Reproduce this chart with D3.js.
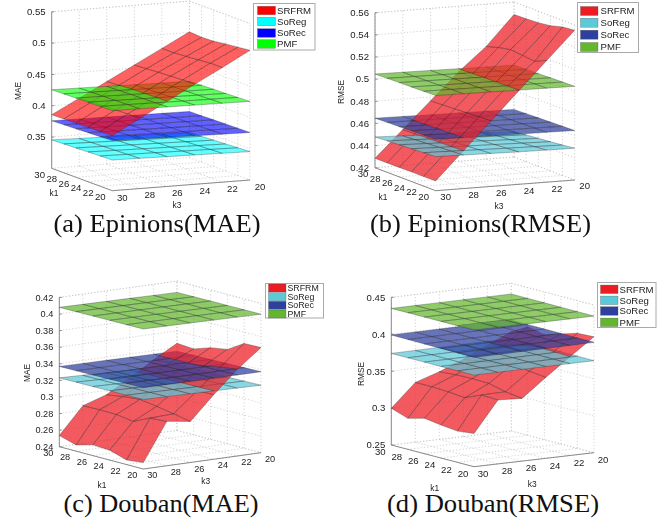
<!DOCTYPE html>
<html><head><meta charset="utf-8">
<script src="https://cdn.jsdelivr.net/npm/d3@7/dist/d3.min.js"></script>
<style>html,body{margin:0;padding:0;background:#fff}svg{display:block}text{font-family:"Liberation Sans",Arial,sans-serif}</style>
</head><body><script>
const kTicks = [30, 28, 26, 24, 22, 20];
const seriesNames = ["SRFRM", "SoReg", "SoRec", "PMF"];

// rows: k1 = 30..20, columns: k3 = 30..20
const epMaeSRFRM = [[.3855,.4086,.4317,.4548,.4779,.5009],[.3860,.4095,.4330,.4560,.4780,.4993],[.3865,.4105,.4345,.4575,.4795,.5003],[.3870,.4115,.4350,.4585,.4810,.5030],[.3875,.4120,.4355,.4595,.4830,.5050],[.3880,.4120,.4360,.4600,.4830,.5073]];
const epMaeSoReg = [[.3454,.3443,.3432,.3422,.3411,.3400],[.3461,.3451,.3441,.3431,.3421,.3411],[.3468,.3459,.3449,.3440,.3431,.3422],[.3476,.3467,.3458,.3450,.3441,.3432],[.3483,.3475,.3467,.3459,.3451,.3443],[.3490,.3483,.3475,.3469,.3461,.3454]];
const epMaeSoRec = [[.3759,.3755,.3750,.3746,.3741,.3737],[.3767,.3762,.3757,.3752,.3746,.3741],[.3775,.3769,.3763,.3757,.3752,.3746],[.3784,.3777,.3770,.3763,.3757,.3750],[.3792,.3784,.3776,.3770,.3762,.3755],[.3800,.3792,.3783,.3776,.3767,.3759]];
const epMaePMF = [[.4255,.4248,.4240,.4233,.4225,.4218],[.4260,.4254,.4247,.4240,.4233,.4226],[.4265,.4259,.4253,.4247,.4240,.4234],[.4270,.4265,.4259,.4253,.4246,.4240],[.4275,.4270,.4264,.4258,.4253,.4248],[.4280,.4275,.4270,.4265,.4260,.4255]];

const epRmseSRFRM = [[.4285,.4525,.4766,.5006,.5218,.5487],[.4285,.4530,.4770,.5010,.5250,.5490],[.4286,.4532,.4776,.5020,.5273,.5496],[.4287,.4535,.4782,.5030,.5262,.5511],[.4287,.4538,.4788,.5040,.5250,.5541],[.4288,.4541,.4794,.5047,.5300,.5553]];
const epRmseSoReg = [[.4478,.4468,.4459,.4449,.4440,.4430],[.4484,.4475,.4467,.4458,.4450,.4441],[.4490,.4482,.4475,.4467,.4459,.4452],[.4496,.4489,.4482,.4476,.4469,.4463],[.4502,.4496,.4490,.4484,.4479,.4474],[.4508,.4503,.4498,.4493,.4490,.4487]];
const epRmseSoRec = [[.4647,.4644,.4640,.4637,.4633,.4630],[.4651,.4647,.4644,.4640,.4637,.4633],[.4654,.4650,.4647,.4644,.4640,.4637],[.4658,.4654,.4651,.4647,.4644,.4640],[.4661,.4657,.4654,.4651,.4647,.4644],[.4665,.4661,.4658,.4654,.4651,.4647]];
const epRmsePMF = [[.5046,.5043,.5040,.5036,.5033,.5030],[.5049,.5046,.5043,.5040,.5036,.5033],[.5052,.5049,.5046,.5043,.5039,.5036],[.5054,.5051,.5048,.5045,.5043,.5040],[.5057,.5054,.5051,.5048,.5046,.5043],[.5060,.5057,.5054,.5051,.5049,.5046]];

const doMaeSRFRM = [[.2534,.2855,.2948,.311,.329,.345],[.2475,.286,.298,.315,.331,.3436],[.253,.2857,.30,.317,.335,.3505],[.252,.2827,.297,.318,.338,.3538],[.2455,.292,.2934,.317,.342,.3664],[.2477,.2935,.2895,.318,.3445,.3667]];
const doMaeSoReg = [[.3230,.3222,.3214,.3206,.3198,.3190],[.3232,.3224,.3217,.3210,.3203,.3195],[.3233,.3226,.3220,.3213,.3207,.3200],[.3235,.3229,.3223,.3217,.3211,.3204],[.3236,.3231,.3226,.3220,.3215,.3209],[.3238,.3233,.3228,.3224,.3219,.3214]];
const doMaeSoRec = [[.3368,.3365,.3363,.3360,.3358,.3355],[.3370,.3368,.3366,.3363,.3361,.3359],[.3373,.3371,.3369,.3366,.3365,.3363],[.3375,.3373,.3371,.3369,.3368,.3367],[.3378,.3376,.3374,.3373,.3372,.3372],[.3380,.3379,.3378,.3378,.3377,.3376]];
const doMaePMF = [[.4080,.4077,.4074,.4071,.4067,.4064],[.4082,.4079,.4076,.4073,.4070,.4065],[.4083,.4081,.4078,.4075,.4072,.4067],[.4085,.4082,.4079,.4076,.4072,.4068],[.4086,.4084,.4081,.4077,.4073,.4069],[.4088,.4085,.4082,.4078,.4074,.4070]];

const doRmseSRFRM = [[.2997,.331,.3416,.3547,.370,.3845],[.292,.331,.3435,.358,.376,.397],[.2979,.330,.344,.362,.382,.392],[.2947,.328,.3435,.366,.385,.399],[.2924,.3375,.338,.362,.385,.4058],[.295,.3366,.3349,.3597,.3838,.407]];
const doRmseSoReg = [[.3740,.3743,.3746,.3749,.3752,.3755],[.3740,.3743,.3745,.3748,.3750,.3753],[.3740,.3742,.3744,.3746,.3749,.3751],[.3740,.3742,.3744,.3745,.3747,.3750],[.3740,.3741,.3743,.3744,.3746,.3748],[.3740,.3741,.3742,.3743,.3745,.3746]];
const doRmseSoRec = [[.3990,.3992,.3994,.3996,.3998,.4000],[.3988,.3990,.3992,.3994,.3997,.3999],[.3986,.3988,.3990,.3993,.3995,.3998],[.3984,.3986,.3989,.3991,.3994,.3997],[.3982,.3985,.3987,.3990,.3992,.3995],[.3980,.3983,.3985,.3988,.3991,.3994]];
const doRmsePMF = [[.4350,.4351,.4352,.4353,.4354,.4355],[.4350,.4351,.4352,.4352,.4353,.4354],[.4350,.4350,.4351,.4352,.4353,.4353],[.4350,.4350,.4351,.4351,.4352,.4352],[.4350,.4350,.4350,.4351,.4351,.4351],[.4350,.4350,.4350,.4350,.4350,.4350]];

const colorsPure = ["#ff0000", "#00ffff", "#0000ff", "#00ff00"];
const colorsPrint = ["#ed1c24", "#5cc8d8", "#2e3f9e", "#62b72e"];

const panels = [
 {caption:"(a) Epinions(MAE)", capX:157, capY:232, capW:207, zLabel:"MAE", zDomain:[.30,.55], zTicks:[.35,.4,.45,.5,.55], zFmt:["0.35","0.4","0.45","0.5","0.55"],
  grids:[epMaeSRFRM,epMaeSoReg,epMaeSoRec,epMaePMF], colors:colorsPure, alpha:.62,
  L:[51.7,168.3],F:[112.3,190.7],R:[250,180],top:156.5,
  k1Off:[-12,6],k3Off:[10,6.5],k1Name:[54,193],k3Name:[177,205],zName:[18,91],fs:9.6,
  leg:{x:253.5,y:3.5,w:61.5,h:46.5,sw:[257.5,18,8.5],rows:[10.5,21.5,33,44],tx:277,fs:9.6}},
 {caption:"(b) Epinions(RMSE)", capX:480.5, capY:232, capW:221, zLabel:"RMSE", zDomain:[.42,.56], zTicks:[.42,.44,.46,.48,.5,.52,.54,.56], zFmt:["0.42","0.44","0.46","0.48","0.5","0.52","0.54","0.56"],
  grids:[epRmseSRFRM,epRmseSoReg,epRmseSoRec,epRmsePMF], colors:colorsPrint, alpha:.72,
  L:[375,167.7],F:[435.7,190.7],R:[574.7,180],top:155,
  k1Off:[-12,6],k3Off:[10,6],k1Name:[383,197],k3Name:[499,206],zName:[341,92],fs:9.6,
  leg:{x:577.5,y:2.5,w:61,h:50,sw:[580.5,17.5,9],rows:[11,22.7,34.7,47],tx:600.5,fs:9.6}},
 {caption:"(c) Douban(MAE)", capX:161, capY:512, capW:195, zLabel:"MAE", zDomain:[.24,.42], zTicks:[.24,.26,.28,.3,.32,.34,.36,.38,.4,.42], zFmt:["0.24","0.26","0.28","0.3","0.32","0.34","0.36","0.38","0.4","0.42"],
  grids:[doMaeSRFRM,doMaeSoReg,doMaeSoRec,doMaePMF], colors:colorsPrint, alpha:.72,
  L:[59.3,446.7],F:[143.3,469],R:[261,452.7],top:149.3,
  k1Off:[-11,6],k3Off:[9,6],k1Name:[102,485],k3Name:[205.7,481],zName:[27,373],fs:9.2,
  leg:{x:265.5,y:283.5,w:58,h:34.5,sw:[268.5,17.5,8],rows:[288,296.7,305.3,314],tx:287.5,fs:8.8}},
 {caption:"(d) Douban(RMSE)", capX:493, capY:512, capW:212, zLabel:"RMSE", zDomain:[.25,.45], zTicks:[.25,.3,.35,.4,.45], zFmt:["0.25","0.3","0.35","0.4","0.45"],
  grids:[doRmseSRFRM,doRmseSoReg,doRmseSoRec,doRmsePMF], colors:colorsPrint, alpha:.72,
  L:[391.3,445],F:[474,466.7],R:[594,452.7],top:147.7,
  k1Off:[-11,7],k3Off:[9,7],k1Name:[434.7,488.5],k3Name:[532.3,484],zName:[360.7,374],fs:9.6,
  leg:{x:597.5,y:282.5,w:58.5,h:45,sw:[600.5,17.5,8.5],rows:[289.3,300.3,311,322.3],tx:619.5,fs:9.6}}
];

const svg = d3.select("body").append("svg").attr("width",668).attr("height",521);
const defs = svg.append("defs");
defs.append("filter").attr("id","soft").attr("x","-5%").attr("y","-5%").attr("width","110%").attr("height","110%")
  .append("feGaussianBlur").attr("stdDeviation",0.35);

panels.forEach(p => {
  const g = svg.append("g").attr("filter","url(#soft)");
  const t1 = d3.scaleLinear().domain([30,20]).range([0,1]);
  const t3 = d3.scaleLinear().domain([30,20]).range([0,1]);
  const zS = d3.scaleLinear().domain(p.zDomain).range([0,p.top]);
  const ax = p.F[0]-p.L[0], ay = p.F[1]-p.L[1], bx = p.R[0]-p.F[0], by = p.R[1]-p.F[1];
  const proj = (k1,k3,z) => {
    const a=t1(k1), b=t3(k3);
    return [p.L[0]+a*ax+b*bx, p.L[1]+a*ay+b*by-zS(z)];
  };
  const z0=p.zDomain[0], z1=p.zDomain[1];
  const seg=(a,b,st)=>g.append("line").attr("x1",a[0]).attr("y1",a[1]).attr("x2",b[0]).attr("y2",b[1])
    .attr("stroke",st?"#8a8a8a":"#c8c8c8").attr("stroke-width",st?1:.8).attr("stroke-dasharray",st?null:"1.2,2");
  kTicks.forEach(k=>{
    seg(proj(k,30,z0),proj(k,20,z0));
    seg(proj(30,k,z0),proj(20,k,z0));
    seg(proj(30,k,z0),proj(30,k,z1));
    seg(proj(k,20,z0),proj(k,20,z1));
  });
  p.zTicks.forEach(z=>{
    seg(proj(30,30,z),proj(30,20,z));
    seg(proj(30,20,z),proj(20,20,z));
  });
  seg(proj(30,30,z1),proj(30,20,z1));
  seg(proj(30,20,z1),proj(20,20,z1));
  seg(proj(30,30,z0),proj(30,30,z1),true);
  seg(proj(30,30,z0),proj(20,30,z0),true);
  seg(proj(20,30,z0),proj(20,20,z0),true);
  p.zTicks.forEach((z,i)=>{
    const q=proj(30,30,z);
    seg(q,[q[0]+2.5,q[1]],true);
    g.append("text").attr("x",q[0]-6).attr("y",q[1]).attr("dy","0.35em").attr("text-anchor","end")
      .attr("font-size",p.fs).attr("fill","#222").text(p.zFmt[i]);
  });
  kTicks.forEach(k=>{
    const a=proj(k,30,z0), b=proj(20,k,z0);
    g.append("text").attr("x",a[0]+p.k1Off[0]).attr("y",a[1]+p.k1Off[1]).attr("dy","0.35em").attr("text-anchor","middle")
      .attr("font-size",p.fs).attr("fill","#222").text(k);
    g.append("text").attr("x",b[0]+p.k3Off[0]).attr("y",b[1]+p.k3Off[1]).attr("dy","0.35em").attr("text-anchor","middle")
      .attr("font-size",p.fs).attr("fill","#222").text(k);
  });
  const nm=(xy,t,rot)=>{
    const e=g.append("text").attr("text-anchor","middle").attr("dy","0.35em").attr("font-size",8.4).attr("fill","#222").text(t);
    if(rot) e.attr("transform",`translate(${xy[0]},${xy[1]}) rotate(-90)`); else e.attr("x",xy[0]).attr("y",xy[1]);
  };
  nm(p.k1Name,"k1"); nm(p.k3Name,"k3"); nm(p.zName,p.zLabel,true);

  const cells=[];
  p.grids.forEach((grid,s)=>{
    for(let i=0;i<5;i++) for(let j=0;j<5;j++){
      const mean=(gr)=>(gr[i][j]+gr[i+1][j]+gr[i][j+1]+gr[i+1][j+1])/4;
      const rank=d3.sum(p.grids,(o,q)=>q!==s&&mean(o)<mean(grid)?1:0);
      cells.push({s,i,j,rank});
    }
  });
  cells.sort((a,b)=>d3.ascending(a.rank,b.rank));
  const line=d3.line();
  g.selectAll("path.cell").data(cells).join("path").attr("class","cell")
    .attr("d",c=>{
      const gr=p.grids[c.s],i=c.i,j=c.j;
      return line([proj(kTicks[i],kTicks[j],gr[i][j]),proj(kTicks[i+1],kTicks[j],gr[i+1][j]),
        proj(kTicks[i+1],kTicks[j+1],gr[i+1][j+1]),proj(kTicks[i],kTicks[j+1],gr[i][j+1])])+"Z";
    })
    .attr("fill",c=>p.colors[c.s]).attr("fill-opacity",p.alpha)
    .attr("stroke","#222").attr("stroke-opacity",.55).attr("stroke-width",.55).attr("stroke-linejoin","round");

  const L=p.leg;
  g.append("rect").attr("x",L.x).attr("y",L.y).attr("width",L.w).attr("height",L.h).attr("fill","#fff").attr("stroke","#aaa").attr("stroke-width",1);
  seriesNames.forEach((n,i)=>{
    g.append("rect").attr("x",L.sw[0]).attr("y",L.rows[i]-L.sw[2]/2).attr("width",L.sw[1]).attr("height",L.sw[2]).attr("fill",p.colors[i]).attr("stroke","#555").attr("stroke-width",.3);
    g.append("text").attr("x",L.tx).attr("y",L.rows[i]).attr("dy","0.35em").attr("font-size",L.fs).attr("fill","#222").text(n);
  });
  svg.append("text").attr("x",p.capX).attr("y",p.capY).attr("text-anchor","middle")
    .attr("textLength",p.capW).attr("lengthAdjust","spacingAndGlyphs")
    .style("font-family",'"Liberation Serif","Times New Roman",serif').attr("font-size",26).attr("fill","#111").text(p.caption);
});
</script></body></html>
